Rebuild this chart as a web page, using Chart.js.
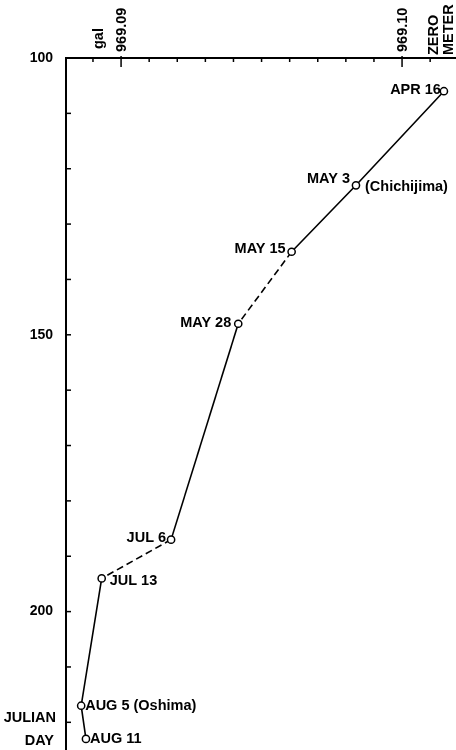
<!DOCTYPE html>
<html><head><meta charset="utf-8">
<script src="https://cdn.jsdelivr.net/npm/chart.js@4/dist/chart.umd.min.js"></script>
<style>html,body{margin:0;padding:0;background:#fff;}#wrap{width:456px;height:750px;}</style>
</head><body><div id="wrap"><canvas id="c" width="456" height="750"></canvas></div>
<script>
// ---- data ----
const stationLabels = ['APR 16', 'MAY 3', 'MAY 15', 'MAY 28', 'JUL 6', 'JUL 13', 'AUG 5 (Oshima)', 'AUG 11'];
const stationNotes = ['', '(Chichijima)', '', '', '', '', '', ''];
const julianDays = [106, 123, 135, 148, 187, 194, 217, 223];
const gravityGal = [969.10149, 969.09836, 969.09607, 969.09417, 969.09178, 969.08931, 969.08858, 969.08875];
const dashedFrom = [2, 4];          // segments starting at these points are dashed
const xTickValues = [969.089, 969.090, 969.091, 969.092, 969.093, 969.094, 969.095, 969.096, 969.097, 969.098, 969.099, 969.100, 969.101];
const xMajorTicks = [969.090, 969.100];
const xMajorLabels = ['969.09', '969.10'];
const xUnitLabel = 'gal';
const meterZeroLabel = ['METER', 'ZERO'];
const meterZeroValue = 969.1014;
const yTickValues = [100, 110, 120, 130, 140, 150, 160, 170, 180, 190, 200, 210, 220];
const yLabeledTicks = [100, 150, 200];
const yTitle = ['JULIAN', 'DAY'];

// ---- label placement (style) ----
const labelPlace = [
  {side: 'left', dx: -3, dy: -1.5},
  {side: 'left', dx: -6, dy: -6, ndx: 9, ndy: 2},
  {side: 'left', dx: -6, dy: -3},
  {side: 'left', dx: -7, dy: -1},
  {side: 'left', dx: -5, dy: -2},
  {side: 'right', dx: 8, dy: 3},
  {side: 'right', dx: 4, dy: 0},
  {side: 'right', dx: 4, dy: 0}
];
const FONT = 'bold 14.5px "Liberation Sans", Arial, sans-serif';

const near = (a, b) => Math.abs(a - b) < 1e-7;

const decor = {
  id: 'decor',
  afterDraw(chart) {
    const ctx = chart.ctx, xs = chart.scales.x, ys = chart.scales.y, area = chart.chartArea;
    ctx.save();
    ctx.strokeStyle = '#000'; ctx.fillStyle = '#000';
    // x ticks (inside)
    ctx.lineWidth = 1.5;
    xTickValues.forEach(v => {
      const px = xs.getPixelForValue(v);
      const major = xMajorTicks.some(m => near(m, v));
      ctx.beginPath();
      ctx.moveTo(px, area.top - (major ? 2 : 0));
      ctx.lineTo(px, area.top + (major ? 9 : 4));
      ctx.stroke();
    });
    // y ticks (inside)
    yTickValues.forEach(v => {
      if (v === ys.min) return;
      const py = ys.getPixelForValue(v);
      ctx.beginPath();
      ctx.moveTo(area.left, py);
      ctx.lineTo(area.left + 5, py);
      ctx.stroke();
    });
    // rotated x labels (counter-clockwise, starting at axis)
    const rot = (text, x, yStart) => {
      ctx.save();
      ctx.translate(x, yStart);
      ctx.rotate(-Math.PI / 2);
      ctx.textAlign = 'left'; ctx.textBaseline = 'middle';
      ctx.fillText(text, 0, 0);
      ctx.restore();
    };
    ctx.font = FONT;
    xMajorTicks.forEach((v, i) => rot(xMajorLabels[i], xs.getPixelForValue(v) + 1, area.top - 6));
    rot(xUnitLabel, xs.getPixelForValue(xMajorTicks[0]) - 22, area.top - 9);
    const mzx = xs.getPixelForValue(meterZeroValue);
    rot(meterZeroLabel[0], mzx + 8, area.top - 3);
    rot(meterZeroLabel[1], mzx - 7, area.top - 3);
    // y title
    ctx.textAlign = 'right'; ctx.textBaseline = 'middle';
    ctx.fillText(yTitle[0], area.left - 10, 718);
    ctx.fillText(yTitle[1], area.left - 12, 741);
    // point labels
    const pts = chart.getDatasetMeta(0).data;
    pts.forEach((p, i) => {
      const lp = labelPlace[i];
      ctx.textBaseline = 'middle';
      ctx.textAlign = lp.side === 'left' ? 'right' : 'left';
      ctx.fillText(stationLabels[i], p.x + lp.dx, p.y + lp.dy);
      if (stationNotes[i]) {
        ctx.textAlign = 'left';
        ctx.fillText(stationNotes[i], p.x + lp.ndx, p.y + lp.ndy);
      }
    });
    ctx.restore();
  }
};

new Chart(document.getElementById('c'), {
  type: 'scatter',
  data: {
    datasets: [{
      data: julianDays.map((d, i) => ({x: gravityGal[i], y: d})),
      showLine: true,
      clip: false,
      borderColor: '#000',
      borderWidth: 1.6,
      pointRadius: 3.6,
      pointBackgroundColor: '#fff',
      pointBorderColor: '#000',
      pointBorderWidth: 1.5,
      segment: {
        borderDash: c => dashedFrom.includes(c.p0DataIndex) ? [7, 4] : undefined
      }
    }]
  },
  options: {
    responsive: false,
    animation: false,
    layout: {padding: 0, autoPadding: false},
    plugins: {legend: {display: false}, tooltip: {enabled: false}},
    scales: {
      x: {
        type: 'linear', position: 'top',
        min: 969.08804, max: 969.10192,
        grid: {display: false},
        border: {display: true, color: '#000', width: 2},
        ticks: {display: false},
        afterFit: s => { s.height = 58; s.paddingLeft = 0; s.paddingRight = 0; }
      },
      y: {
        type: 'linear', reverse: true, min: 100, max: 225,
        afterBuildTicks: s => { s.ticks = yTickValues.map(v => ({value: v})); },
        grid: {display: false},
        border: {display: true, color: '#000', width: 2},
        ticks: {
          autoSkip: false,
          padding: 5,
          color: '#000',
          font: {family: '"Liberation Sans", Arial, sans-serif', size: 14, weight: 'bold'},
          callback: v => yLabeledTicks.includes(v) ? String(v) : ''
        },
        afterFit: s => { s.width = 66; s.paddingTop = 0; s.paddingBottom = 0; }
      }
    }
  },
  plugins: [decor]
});
</script></body></html>
